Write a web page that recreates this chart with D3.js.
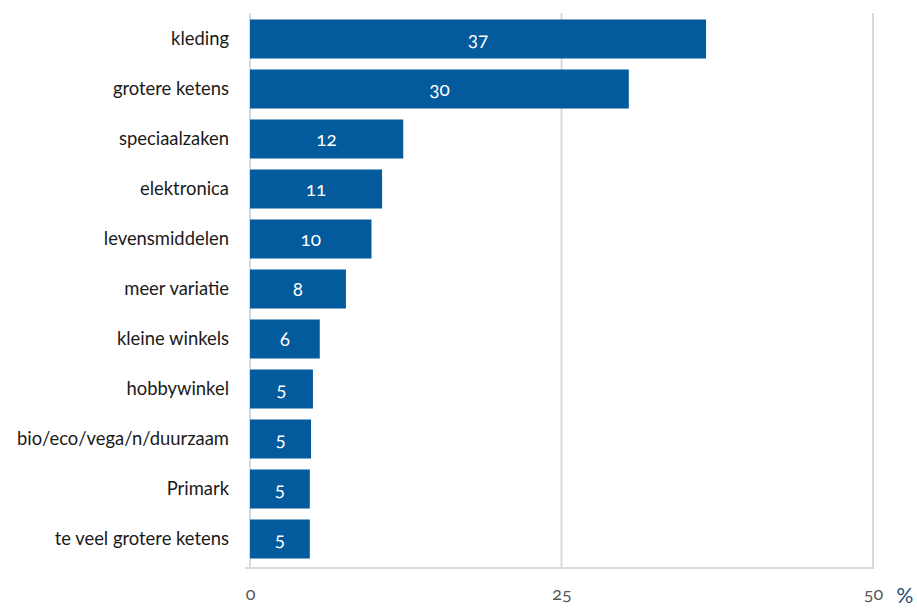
<!DOCTYPE html>
<html>
<head>
<meta charset="utf-8">
<script src="https://cdn.jsdelivr.net/npm/d3@7"></script>
<style>
  html, body { margin: 0; padding: 0; background: #fff; }
  svg { display: block; font-family: Lato, "Open Sans", sans-serif; }
  .num { font-variant-numeric: oldstyle-nums; font-feature-settings: "onum" 1; }
</style>
</head>
<body>
<svg id="chart" width="917" height="608"></svg>
<script>
// Categories, top to bottom
const categories = [
  "kleding",
  "grotere ketens",
  "speciaalzaken",
  "elektronica",
  "levensmiddelen",
  "meer variatie",
  "kleine winkels",
  "hobbywinkel",
  "bio/eco/vega/n/duurzaam",
  "Primark",
  "te veel grotere ketens"
];
// Share of respondents (%)
const values = [36.6, 30.4, 12.3, 10.6, 9.75, 7.7, 5.6, 5.05, 4.9, 4.8, 4.8];
const xTicks = [0, 25, 50];
const unitLabel = "%";

const svg = d3.select("#chart");
const plotLeft = 250, plotRight = 873, plotTop = 14, plotBottom = 564;
const gridTop = 13, axisY = 568;

const x = d3.scaleLinear().domain([0, 50]).range([plotLeft, plotRight]);
const y = d3.scaleBand().domain(categories).range([plotTop, plotBottom])
  .paddingInner(0.22).paddingOuter(0.11);

const data = categories.map((c, i) => ({ cat: c, val: values[i] }));

// vertical gridlines
svg.append("g").selectAll("line").data(xTicks).join("line")
  .attr("x1", d => x(d)).attr("x2", d => x(d))
  .attr("y1", gridTop).attr("y2", axisY)
  .attr("stroke", "#d9d9d9").attr("stroke-width", 2);

// baseline
svg.append("line")
  .attr("x1", x(0) - 5).attr("x2", x(50) + 1)
  .attr("y1", axisY).attr("y2", axisY)
  .attr("stroke", "#d9d9d9").attr("stroke-width", 2);

// bars
svg.append("g").selectAll("rect").data(data).join("rect")
  .attr("x", x(0))
  .attr("y", d => y(d.cat))
  .attr("width", d => x(d.val) - x(0))
  .attr("height", y.bandwidth())
  .attr("fill", "#035a9c");

// value labels
const fmt = d3.format(".0f");
svg.append("g").selectAll("text").data(data).join("text")
  .attr("class", "num")
  .attr("x", d => (x(0) + x(d.val)) / 2)
  .attr("y", d => y(d.cat) + y.bandwidth() / 2 + 7)
  .attr("text-anchor", "middle")
  .attr("fill", "#ffffff")
  .attr("font-size", 19)
  .text(d => fmt(d.val));

// category labels
svg.append("g").selectAll("text").data(categories).join("text")
  .attr("x", 229)
  .attr("y", d => y(d) + y.bandwidth() / 2 + 6)
  .attr("text-anchor", "end")
  .attr("fill", "#1a1a1a")
  .attr("font-size", 18.4)
  .text(d => d);

// x tick labels
const xAxis = d3.axisBottom(x).tickValues(xTicks).tickSize(0).tickPadding(0);
const gx = svg.append("g").attr("transform", "translate(0, 600)").call(xAxis);
gx.select(".domain").remove();
gx.selectAll("text")
  .attr("class", "num")
  .attr("y", 0)
  .attr("dy", null)
  .attr("fill", "#595959")
  .attr("font-size", 18)
  .attr("font-family", "Lato, 'Open Sans', sans-serif");

// unit
svg.append("text")
  .attr("x", x(50) + 32).attr("y", 603)
  .attr("text-anchor", "middle")
  .attr("fill", "#1f4e79")
  .attr("font-size", 21)
  .text(unitLabel);
</script>
</body>
</html>
